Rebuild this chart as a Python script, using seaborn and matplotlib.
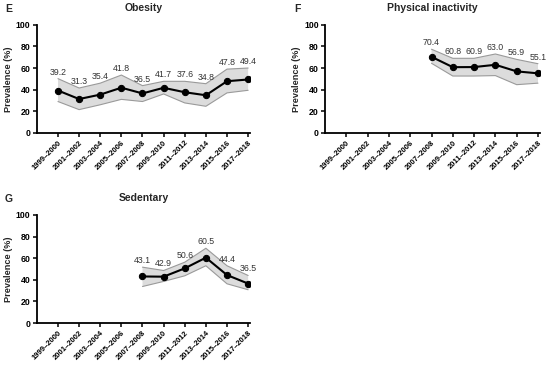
import numpy as np
import pandas as pd
import matplotlib
matplotlib.use('Agg')
import matplotlib.pyplot as plt
import seaborn as sns

# -----------------------------
# DATA
# -----------------------------

periods = ['1999–2000', '2001–2002', '2003–2004', '2005–2006', '2007–2008',
           '2009–2010', '2011–2012', '2013–2014', '2015–2016', '2017–2018']

obesity = [39.2, 31.3, 35.4, 41.8, 36.5, 41.7, 37.6, 34.8, 47.8, 49.4]
obesity_lo = [29.0, 21.5, 26.0, 31.0, 29.0, 36.0, 27.7, 24.6, 37.0, 39.4]
obesity_hi = [50.2, 41.5, 46.0, 53.5, 43.7, 47.7, 47.7, 45.5, 59.0, 60.0]

inactivity = [np.nan, np.nan, np.nan, np.nan, 70.4, 60.8, 60.9, 63.0, 56.9, 55.1]
inactivity_lo = [np.nan, np.nan, np.nan, np.nan, 64.4, 52.6, 52.6, 53.0, 44.6, 46.0]
inactivity_hi = [np.nan, np.nan, np.nan, np.nan, 77.4, 69.0, 69.0, 73.0, 68.0, 64.0]

sedentary = [np.nan, np.nan, np.nan, np.nan, 43.1, 42.9, 50.6, 60.5, 44.4, 36.5]
sedentary_lo = [np.nan, np.nan, np.nan, np.nan, 33.8, 38.5, 43.7, 53.0, 36.3, 30.8]
sedentary_hi = [np.nan, np.nan, np.nan, np.nan, 51.7, 48.6, 56.3, 69.2, 53.0, 44.0]

panels = [
    ('E', 'Obesity', obesity, obesity_lo, obesity_hi),
    ('F', 'Physical inactivity', inactivity, inactivity_lo, inactivity_hi),
    ('G', 'Sedentary', sedentary, sedentary_lo, sedentary_hi),
]

# -----------------------------
# STYLE
# -----------------------------

sns.set_style('ticks')
plt.rcParams['font.family'] = ['Liberation Sans', 'DejaVu Sans']

fig = plt.figure(figsize=(5.5, 3.65), dpi=100)

# axes boxes in figure fractions (left, bottom, width, height)
boxes = [
    [0.067, 0.636, 0.388, 0.296],
    [0.591, 0.636, 0.391, 0.296],
    [0.067, 0.115, 0.388, 0.296],
]

# -----------------------------
# DRAW
# -----------------------------

for (letter, title, vals, lo, hi), box in zip(panels, boxes):
    ax = fig.add_axes(box)
    df = pd.DataFrame({'pos': np.arange(len(periods)), 'val': vals,
                       'lo': lo, 'hi': hi}).dropna()

    ax.fill_between(df['pos'], df['lo'], df['hi'], color='#dcdcdc',
                    edgecolor='none', zorder=1)
    ax.plot(df['pos'], df['lo'], color='#9a9a9a', lw=0.8, zorder=2)
    ax.plot(df['pos'], df['hi'], color='#9a9a9a', lw=0.8, zorder=2)

    sns.lineplot(data=df, x='pos', y='val', ax=ax, color='black', lw=1.5,
                 marker='o', markersize=4.5, markeredgecolor='black', zorder=3)

    for p, v, h in zip(df['pos'], df['val'], df['hi']):
        ax.annotate(f'{v:.1f}', (p, h), xytext=(0, 1.5), textcoords='offset points',
                    ha='center', va='bottom', fontsize=6.3, color='#333333')

    ax.set_xlim(-1, 9.1)
    ax.set_ylim(0, 100)
    ax.set_yticks([0, 20, 40, 60, 80, 100])
    ax.set_xticks(np.arange(len(periods)))
    ax.set_xticklabels(periods, rotation=45, ha='right', rotation_mode='anchor',
                       fontsize=5.5, fontweight='bold')
    for lab in ax.get_yticklabels():
        lab.set_fontsize(6.3)
        lab.set_fontweight('bold')
    ax.set_xlabel('')
    ax.set_ylabel('Prevalence (%)', fontsize=6.6, fontweight='bold', labelpad=2)
    ax.tick_params(axis='both', length=3, width=1.1, pad=1.5, colors='black')
    sns.despine(ax=ax)
    for s in ['left', 'bottom']:
        ax.spines[s].set_linewidth(1.3)
        ax.spines[s].set_color('black')

    ax.set_title(title, fontsize=7.5, fontweight='bold', pad=10)
    ax.text(-0.13, 1.145, letter, transform=ax.transAxes, fontsize=7.5,
            fontweight='bold', ha='center', va='center')

fig.savefig('out.png', dpi=100)
